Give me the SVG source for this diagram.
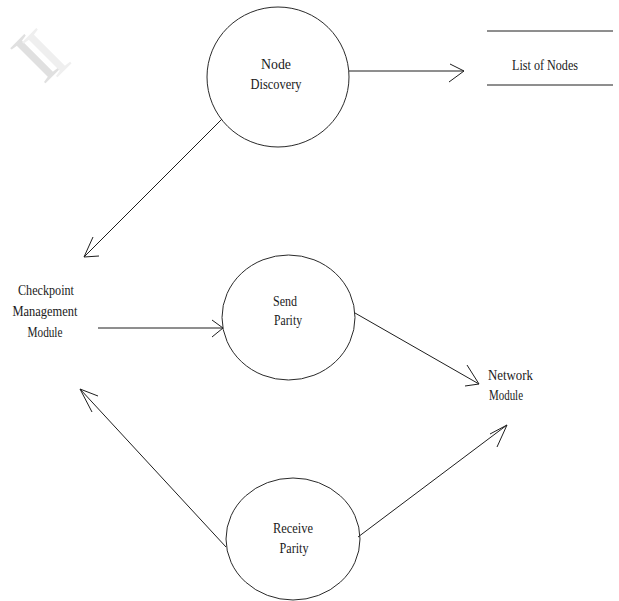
<svg xmlns="http://www.w3.org/2000/svg" width="619" height="601" viewBox="0 0 619 601">
  <style>
    .bg { fill: #ffffff; }
    .proc { fill: none; stroke: #2a2a2a; stroke-width: 1; }
    .flow { fill: none; stroke: #1e1e1e; stroke-width: 1; }
    .head { fill: none; stroke: #1e1e1e; stroke-width: 1; stroke-linejoin: miter; }
    .store { stroke: #1e1e1e; stroke-width: 1; }
    .lbl { font-family: "Liberation Serif", "DejaVu Serif", "Times New Roman", serif; font-size: 14px; fill: #1a1a1a; }
    .mid { text-anchor: middle; }
    .wm { font-family: "Liberation Serif", "DejaVu Serif", serif; font-size: 76px; text-anchor: middle; }
  </style>

  <rect class="bg" x="0" y="0" width="619" height="601"/>

  <!-- faint watermark glyphs in the top-left corner -->
  <g id="watermark">
    <text class="wm" fill="#e0e0e0" transform="translate(34,58) rotate(-45)" y="26">I</text>
    <text class="wm" fill="#efefef" transform="translate(46,52) rotate(-45)" y="26">I</text>
  </g>

  <!-- data flows -->
  <g id="connectors">
    <!-- Node Discovery -> List of Nodes -->
    <line class="flow" x1="349" y1="71" x2="464" y2="71"/>
    <polyline class="head" points="450,64 464,71 449,82"/>
    <!-- Node Discovery -> Checkpoint Management Module -->
    <line class="flow" x1="222" y1="119" x2="84" y2="257"/>
    <polyline class="head" points="93,237 84,257 99,256"/>
    <!-- Checkpoint Management Module -> Send Parity -->
    <line class="flow" x1="98" y1="328" x2="223" y2="328"/>
    <polyline class="head" points="212,320 223,328 212,337"/>
    <!-- Send Parity -> Network Module -->
    <line class="flow" x1="355" y1="313" x2="479" y2="384"/>
    <polyline class="head" points="467,365 479,384 465,386"/>
    <!-- Receive Parity -> Network Module -->
    <line class="flow" x1="358" y1="537" x2="507" y2="425"/>
    <polyline class="head" points="490,434 507,425 497,447"/>
    <!-- Receive Parity -> Checkpoint Management Module -->
    <line class="flow" x1="226" y1="547" x2="80" y2="389"/>
    <polyline class="head" points="98,396 80,389 92,412"/>
  </g>

  <g id="node-discovery">
    <ellipse class="proc" cx="278" cy="77" rx="71" ry="70"/>
    <text class="lbl mid" x="276" y="69" textLength="30" lengthAdjust="spacingAndGlyphs">Node</text>
    <text class="lbl mid" x="276" y="89" textLength="51" lengthAdjust="spacingAndGlyphs">Discovery</text>
  </g>

  <g id="list-of-nodes">
    <line class="store" x1="487" y1="31" x2="613" y2="31"/>
    <line class="store" x1="487" y1="85" x2="613" y2="85"/>
    <text class="lbl mid" x="545" y="70" textLength="66" lengthAdjust="spacingAndGlyphs">List of Nodes</text>
  </g>

  <g id="checkpoint-management-module">
    <text class="lbl mid" x="46" y="295" textLength="56" lengthAdjust="spacingAndGlyphs">Checkpoint</text>
    <text class="lbl mid" x="45" y="316" textLength="65" lengthAdjust="spacingAndGlyphs">Management</text>
    <text class="lbl mid" x="45" y="337" textLength="35" lengthAdjust="spacingAndGlyphs">Module</text>
  </g>

  <g id="send-parity">
    <ellipse class="proc" cx="288.5" cy="317.5" rx="66.5" ry="62.5"/>
    <text class="lbl mid" x="285" y="306" textLength="24" lengthAdjust="spacingAndGlyphs">Send</text>
    <text class="lbl mid" x="288" y="325" textLength="28" lengthAdjust="spacingAndGlyphs">Parity</text>
  </g>

  <g id="network-module">
    <text class="lbl" x="488" y="380" textLength="45" lengthAdjust="spacingAndGlyphs">Network</text>
    <text class="lbl" x="489" y="400" textLength="34" lengthAdjust="spacingAndGlyphs">Module</text>
  </g>

  <g id="receive-parity">
    <ellipse class="proc" cx="293" cy="539" rx="67" ry="61"/>
    <text class="lbl mid" x="293" y="533" textLength="40" lengthAdjust="spacingAndGlyphs">Receive</text>
    <text class="lbl mid" x="294" y="553" textLength="29" lengthAdjust="spacingAndGlyphs">Parity</text>
  </g>
</svg>
